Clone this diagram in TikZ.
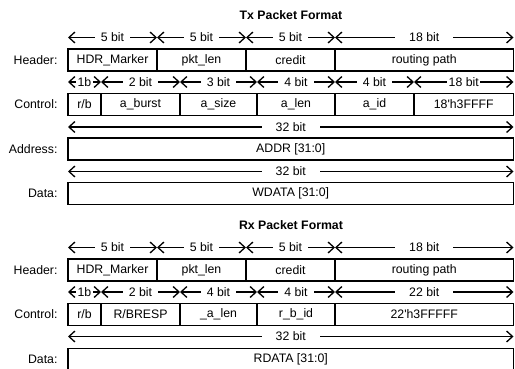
\documentclass[tikz,border=0pt]{standalone}
\usepackage{fontspec}
\setmainfont{Liberation Sans}[Ligatures=TeXOff]
\usetikzlibrary{arrows.meta}

\begin{document}
\begin{tikzpicture}[
x=1pt,y=-1pt,
font=\fontsize{12.3}{14}\selectfont,
title/.style={font=\fontsize{12.3}{14}\selectfont\bfseries},
rowname/.style={anchor=east},
field/.style={draw,line width=1.7pt,minimum height=22pt,inner sep=0pt},
dim/.style={{Straight Barb[length=6pt,width=11pt]}-{Straight Barb[length=6pt,width=11pt]},line width=1.3pt},
bits/.style={fill=white,inner xsep=6pt,inner ysep=1pt},
widebits/.style={bits,inner xsep=14pt},
tightbits/.style={bits,inner xsep=1.5pt}
]
\useasboundingbox (0,0) rectangle (515,369);

% ---------------- Tx ----------------
\node[title] (txtitle) at (291,15) {Tx Packet Format};

\coordinate (th0) at (68,37.5);
\coordinate (th1) at (157,37.5);
\coordinate (th2) at (246,37.5);
\coordinate (th3) at (335,37.5);
\coordinate (th4) at (513.5,37.5);
\draw[dim] (th0) -- node[bits] {5 bit} (th1);
\draw[dim] (th1) -- node[bits] {5 bit} (th2);
\draw[dim] (th2) -- node[bits] {5 bit} (th3);
\draw[dim] (th3) -- node[widebits] {18 bit} (th4);

\node[rowname] (txhdrname) at (61,60) {Header:};
\node[field,minimum width=89pt] (txmarker) at (112.5,60) {HDR\_Marker};
\node[field,minimum width=89pt] (txpktlen) at (201.5,60) {pkt\_len};
\node[field,minimum width=89pt] (txcredit) at (290.5,60) {credit};
\node[field,minimum width=178.5pt] (txroute) at (424.25,60) {routing path};

\coordinate (tc0) at (68,82);
\coordinate (tc1) at (101,82);
\coordinate (tc2) at (180,82);
\coordinate (tc3) at (257,82);
\coordinate (tc4) at (335,82);
\coordinate (tc5) at (414,82);
\coordinate (tc6) at (513.5,82);
\draw[dim] (tc0) -- node[tightbits] {1b} (tc1);
\draw[dim] (tc1) -- node[bits] {2 bit} (tc2);
\draw[dim] (tc2) -- node[bits] {3 bit} (tc3);
\draw[dim] (tc3) -- node[bits] {4 bit} (tc4);
\draw[dim] (tc4) -- node[bits] {4 bit} (tc5);
\draw[dim] (tc5) -- node[tightbits] {18 bit} (tc6);

\node[rowname] (txctrlname) at (61,104.5) {Control:};
\node[field,minimum width=33pt] (txrb) at (84.5,104.5) {r/b};
\node[field,minimum width=79pt] (txburst) at (140.5,104.5) {a\_burst};
\node[field,minimum width=77pt] (txsize) at (218.5,104.5) {a\_size};
\node[field,minimum width=78pt] (txlen) at (296,104.5) {a\_len};
\node[field,minimum width=79pt] (txid) at (374.5,104.5) {a\_id};
\node[field,minimum width=99.5pt] (txfill) at (463.75,104.5) {18'h3FFFF};

\coordinate (ta0) at (68,127);
\coordinate (ta1) at (513.5,127);
\draw[dim] (ta0) -- node[widebits] {32 bit} (ta1);

\node[rowname] (txaddrname) at (61,149) {Address:};
\node[field,minimum width=445.5pt] (txaddr) at (290.75,149) {ADDR [31:0]};

\coordinate (td0) at (68,171.5);
\coordinate (td1) at (513.5,171.5);
\draw[dim] (td0) -- node[widebits] {32 bit} (td1);

\node[rowname] (txdataname) at (61,193.5) {Data:};
\node[field,minimum width=445.5pt] (txdata) at (290.75,193.5) {WDATA [31:0]};

% ---------------- Rx ----------------
\node[title] (rxtitle) at (291,225) {Rx Packet Format};

\coordinate (rh0) at (68,247.5);
\coordinate (rh1) at (157,247.5);
\coordinate (rh2) at (246,247.5);
\coordinate (rh3) at (335,247.5);
\coordinate (rh4) at (513.5,247.5);
\draw[dim] (rh0) -- node[bits] {5 bit} (rh1);
\draw[dim] (rh1) -- node[bits] {5 bit} (rh2);
\draw[dim] (rh2) -- node[bits] {5 bit} (rh3);
\draw[dim] (rh3) -- node[widebits] {18 bit} (rh4);

\node[rowname] (rxhdrname) at (61,270) {Header:};
\node[field,minimum width=89pt] (rxmarker) at (112.5,270) {HDR\_Marker};
\node[field,minimum width=89pt] (rxpktlen) at (201.5,270) {pkt\_len};
\node[field,minimum width=89pt] (rxcredit) at (290.5,270) {credit};
\node[field,minimum width=178.5pt] (rxroute) at (424.25,270) {routing path};

\coordinate (rc0) at (68,292);
\coordinate (rc1) at (101,292);
\coordinate (rc2) at (180,292);
\coordinate (rc3) at (257,292);
\coordinate (rc4) at (335,292);
\coordinate (rc5) at (513.5,292);
\draw[dim] (rc0) -- node[tightbits] {1b} (rc1);
\draw[dim] (rc1) -- node[bits] {2 bit} (rc2);
\draw[dim] (rc2) -- node[bits] {4 bit} (rc3);
\draw[dim] (rc3) -- node[bits] {4 bit} (rc4);
\draw[dim] (rc4) -- node[widebits] {22 bit} (rc5);

\node[rowname] (rxctrlname) at (61,314.5) {Control:};
\node[field,minimum width=33pt] (rxrb) at (84.5,314.5) {r/b};
\node[field,minimum width=79pt] (rxresp) at (140.5,314.5) {R/BRESP};
\node[field,minimum width=77pt] (rxlen) at (218.5,314.5) {\_a\_len};
\node[field,minimum width=78pt] (rxid) at (296,314.5) {r\_b\_id};
\node[field,minimum width=178.5pt] (rxfill) at (424.25,314.5) {22'h3FFFFF};

\coordinate (rd0) at (68,336.5);
\coordinate (rd1) at (513.5,336.5);
\draw[dim] (rd0) -- node[widebits] {32 bit} (rd1);

\node[rowname] (rxdataname) at (61,359) {Data:};
\node[field,minimum width=445.5pt] (rxdata) at (290.75,359.5) {RDATA [31:0]};
\end{tikzpicture}
\end{document}
